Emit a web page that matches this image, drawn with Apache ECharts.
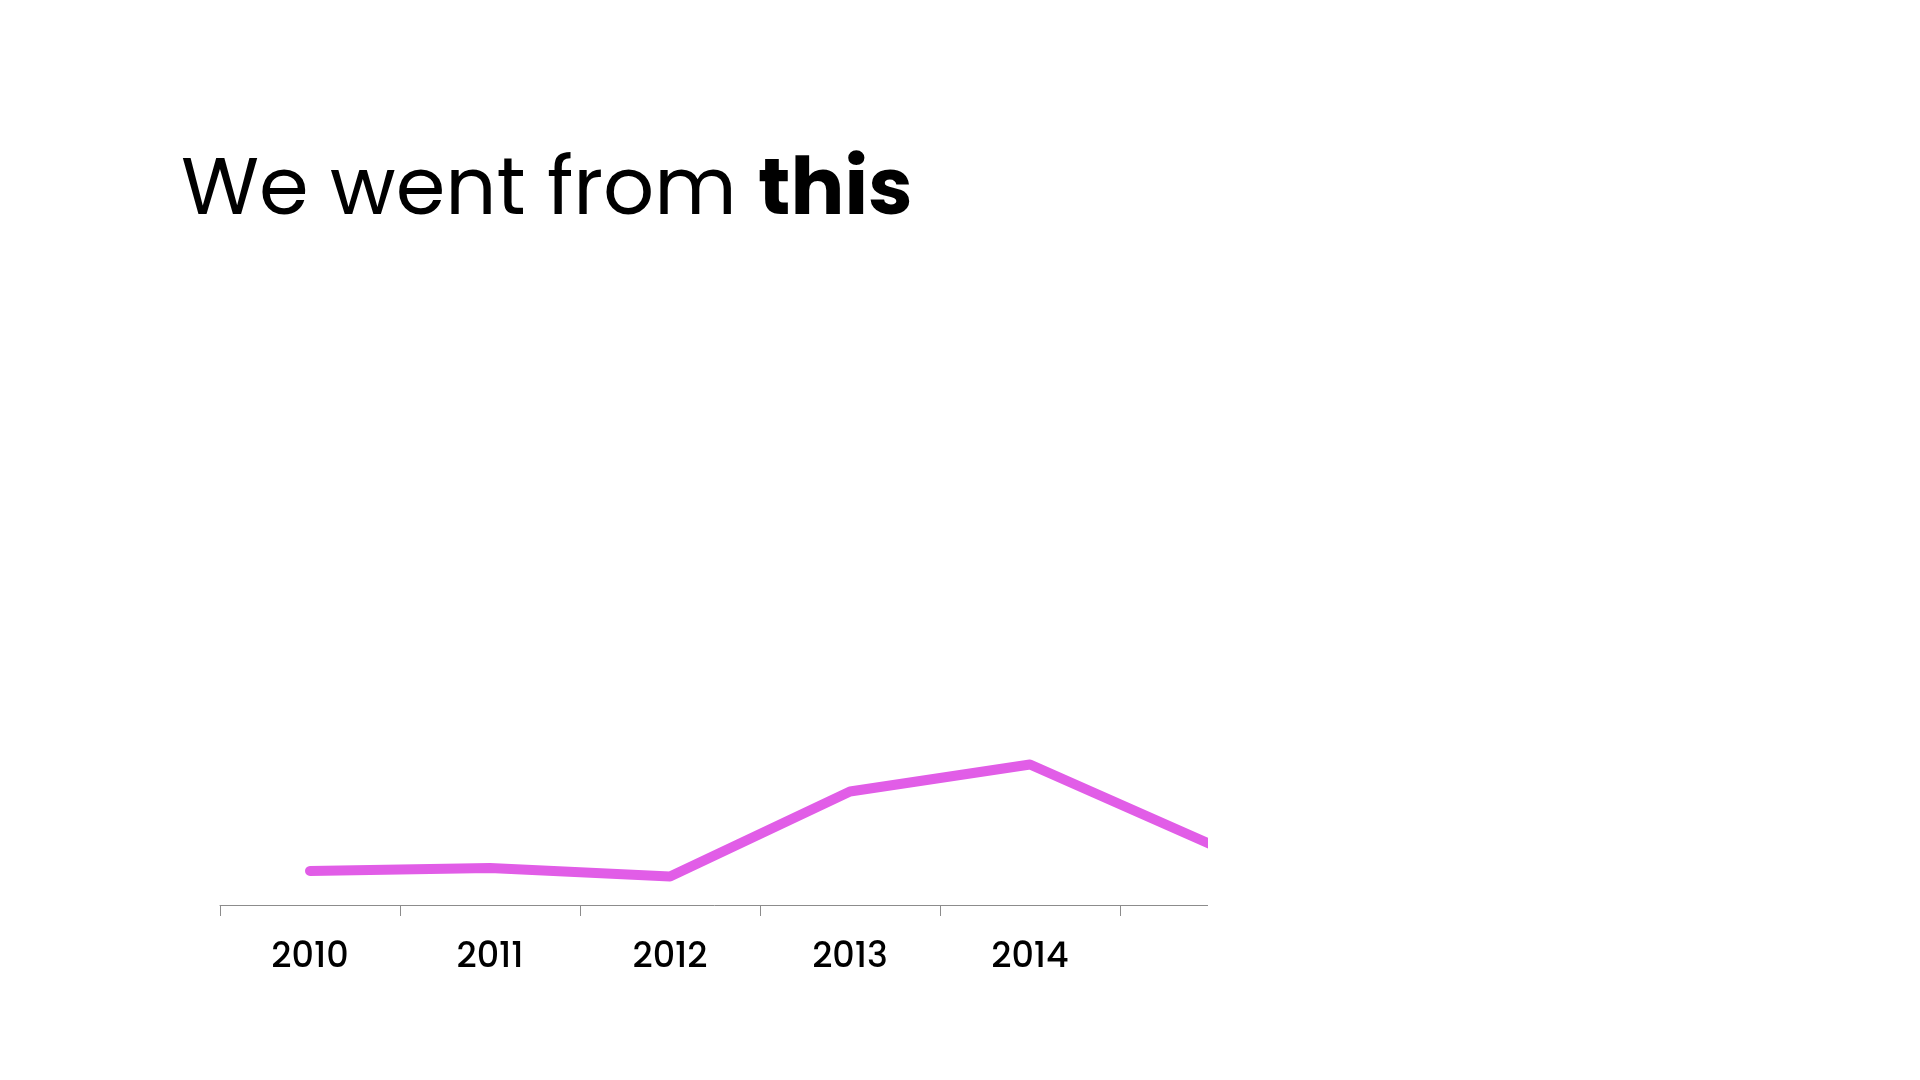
<!DOCTYPE html>
<html>
<head>
<meta charset="utf-8">
<title>We went from this</title>
<script src="https://cdn.jsdelivr.net/npm/echarts@6/dist/echarts.min.js"></script>
<style>
    html, body { margin: 0; padding: 0; background: #fff; }
    /* the chart runs past the right edge and is cut off there, like the slide */
    #chartWrap { width: 1208px; height: 1080px; overflow: hidden; }
</style>
</head>
<body>
<div id="chartWrap"></div>
<script>
// data
var years = ['2010', '2011', '2012', '2013', '2014', '2015'];
var values = [6.8, 7.4, 5.7, 22.7, 28.1, 12.2];

var lineColor = '#E15DE7';
var fontFamily = 'Poppins, Inter, sans-serif';

var myChart = echarts.init(document.getElementById('chartWrap'));

myChart.setOption({
    backgroundColor: '#fff',
    animation: false,
    title: {
        text: '{n|We went from }{b|this}',
        left: 181,
        top: 154,
        padding: 0,
        textStyle: {
            rich: {
                n: { fontFamily: fontFamily, fontSize: 80, fontWeight: 'normal', color: '#000' },
                b: { fontFamily: fontFamily, fontSize: 80, fontWeight: 'bold', color: '#000' }
            }
        }
    },
    grid: {
        left: 220,
        top: 405,
        width: 1080, // 6 bands of 180px, the last half is cut by the wrapper
        bottom: 175,
        outerBoundsMode: 'none'
    },
    xAxis: {
        type: 'category',
        data: years,
        boundaryGap: true,
        axisLine: { lineStyle: { color: '#8c8c8c', width: 1 } },
        axisTick: { show: true, interval: 0, length: 11, lineStyle: { color: '#8c8c8c' } },
        axisLabel: {
            // last year sits on the cut edge, its label is not shown
            interval: function (idx) { return idx < years.length - 1; },
            color: '#000',
            fontFamily: fontFamily,
            fontSize: 35,
            fontWeight: 500,
            margin: 36
        }
    },
    yAxis: {
        type: 'value',
        min: 0,
        max: 100,
        show: false
    },
    series: [{
        type: 'line',
        data: values,
        symbol: 'none',
        lineStyle: { color: lineColor, width: 10, cap: 'round', join: 'round' }
    }]
});
</script>
</body>
</html>
